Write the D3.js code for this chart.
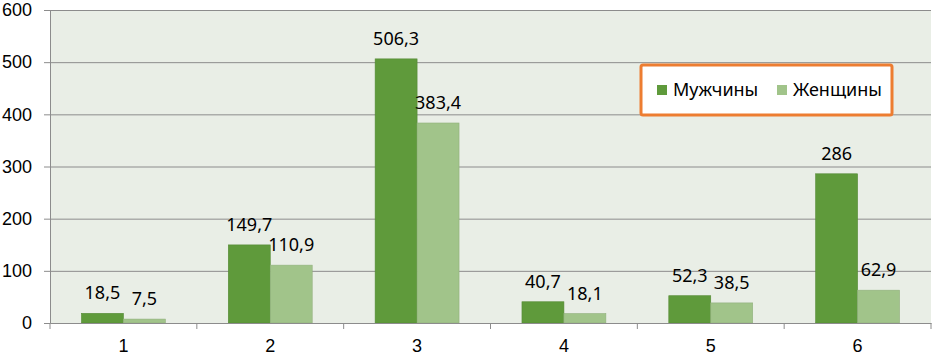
<!DOCTYPE html>
<html lang="ru">
<head>
  <meta charset="UTF-8">
  <title>Мужчины и женщины</title>
  <script src="https://cdn.jsdelivr.net/npm/d3@7"></script>
  <style>
    body { margin: 0; background: #fff; }
    svg { display: block; font-family: 'Noto Sans', sans-serif; }
  </style>
</head>
<body>
<svg></svg>
<script>
  const width = 936, height = 357
  const margin = {top: 10, right: 5, bottom: 34, left: 50}

  const categories = ['1', '2', '3', '4', '5', '6']
  const series = ['Мужчины', 'Женщины']
  const men = [18.5, 149.7, 506.3, 40.7, 52.3, 286]
  const women = [7.5, 110.9, 383.4, 18.1, 38.5, 62.9]
  const yTicks = [0, 100, 200, 300, 400, 500, 600]
  const colors = ['#5f9a3b', '#a1c48a']

  const data = categories.map((c, i) => ({cat: c, values: [men[i], women[i]]}))
  const fmt = v => String(v).replace('.', ',')

  const svg = d3.select('svg')
      .attr('width', width)
      .attr('height', height)

  const x = d3.scaleBand()
      .domain(categories)
      .range([margin.left, width - margin.right])

  const x1 = d3.scaleBand()
      .domain(series)
      .range([0, x.bandwidth()])
      .paddingOuter(0.75)

  const y = d3.scaleLinear()
      .domain([0, 600])
      .range([height - margin.bottom, margin.top])

  // фон области построения
  svg.append('rect')
      .attr('x', margin.left)
      .attr('y', margin.top)
      .attr('width', width - margin.right - margin.left)
      .attr('height', y(0) - margin.top)
      .attr('fill', '#e9eee6')

  // Y ось с сеткой
  svg.append('g')
      .attr('transform', `translate(${margin.left},0)`)
      .call(d3.axisLeft(y).tickValues(yTicks).tickSize(6).tickPadding(12))
      .call(g => g.select('.domain').attr('stroke', '#8c8c8c'))
      .call(g => g.selectAll('.tick line').attr('stroke', '#8c8c8c'))
      .call(g => g.selectAll('.tick text').attr('font-size', 18).attr('fill', '#000'))
      .call(g => g.selectAll('.tick').filter(d => d > 0).append('line')
          .attr('x2', width - margin.right - margin.left)
          .attr('stroke', '#8c8c8c'))

  // столбцы
  const groups = svg.append('g')
      .selectAll('g')
      .data(data)
      .join('g')
      .attr('transform', d => `translate(${x(d.cat)},0)`)

  groups.selectAll('rect')
      .data(d => d.values.map((v, i) => ({key: series[i], v, i})))
      .join('rect')
      .attr('x', d => x1(d.key))
      .attr('y', d => y(d.v))
      .attr('width', x1.bandwidth())
      .attr('height', d => y(0) - y(d.v))
      .attr('fill', d => colors[d.i])
      .attr('stroke', d => d3.color(colors[d.i]).darker(0.3))
      .attr('stroke-width', 0.6)

  groups.selectAll('text')
      .data(d => d.values.map((v, i) => ({key: series[i], v, i})))
      .join('text')
      .attr('x', d => x1(d.key) + x1.bandwidth() / 2)
      .attr('y', d => y(d.v) - 14)
      .attr('text-anchor', 'middle')
      .attr('font-size', 18)
      .text(d => fmt(d.v))

  // X ось
  svg.append('g')
      .attr('transform', `translate(0,${y(0)})`)
      .call(d3.axisBottom(x).tickSize(0).tickPadding(16))
      .call(g => g.select('.domain').attr('stroke', '#8c8c8c'))
      .call(g => g.selectAll('.tick text').attr('font-size', 18).attr('fill', '#000'))
      .call(g => g.selectAll('.sep')
          .data(categories.concat(['end']))
          .join('line')
          .attr('class', 'sep')
          .attr('x1', (d, i) => margin.left + i * x.bandwidth())
          .attr('x2', (d, i) => margin.left + i * x.bandwidth())
          .attr('y2', 6)
          .attr('stroke', '#8c8c8c'))

  // легенда
  const legend = svg.append('g').attr('transform', 'translate(641,65)')
  legend.append('rect')
      .attr('width', 251)
      .attr('height', 50)
      .attr('rx', 2)
      .attr('fill', '#fff')
      .attr('stroke', '#ed7d31')
      .attr('stroke-width', 3)

  const items = legend.selectAll('.item')
      .data(series)
      .join('g')
      .attr('transform', (d, i) => `translate(${i === 0 ? 16 : 136},25)`)
  items.append('rect')
      .attr('y', -5)
      .attr('width', 10)
      .attr('height', 10)
      .attr('fill', (d, i) => colors[i])
  items.append('text')
      .attr('x', 16)
      .attr('dy', '0.35em')
      .attr('font-size', 18)
      .text(d => d)
</script>
</body>
</html>
